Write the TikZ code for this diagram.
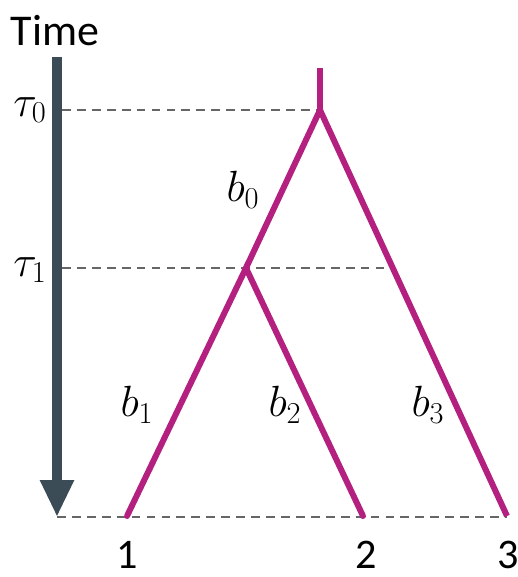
\documentclass[tikz,border=0pt]{standalone}
\usepackage{fontspec}
\setmainfont{Carlito}
\usepackage{amsmath}
\usetikzlibrary{arrows.meta}
\definecolor{treecol}{HTML}{B3207F}
\definecolor{timecol}{HTML}{3B4C56}
\definecolor{dashcol}{HTML}{666666}
\tikzset{
  branch/.style={line width=3.4pt, treecol},
  guide/.style={line width=0.8pt, dashcol, dash pattern=on 5pt off 3.5pt},
  lbl/.style={font=\fontsize{24}{28}\selectfont, inner sep=0pt}
}
\begin{document}
\begin{tikzpicture}[x=0.02cm, y=-0.02cm]
\useasboundingbox (0,0) rectangle (517,577);
% Asse del tempo
\node[lbl, font=\fontsize{25}{29}\selectfont] (time) at (55,31) {Time};
\draw[timecol, line width=5.7pt, -{Triangle[length=21pt, width=18pt]}] (57,57) -- (57,517);
% Punti dell'albero
\coordinate (top) at (320,68);
\coordinate (root) at (320,110);
\coordinate (mid) at (246,268);
\coordinate (leafA) at (127,516);
\coordinate (leafB) at (363,516);
\coordinate (leafC) at (507,516);
\coordinate (tauA) at (62,110);
\coordinate (tauB) at (62,268);
\coordinate (base) at (57,517);
\coordinate (cross) at (393,268);
% Linee tratteggiate
\draw[guide] (tauA) -- (root);
\draw[guide] (tauB) -- (cross);
\draw[guide] (base) -- (leafC |- base);
% Rami
\draw[branch] (top) -- (root);
\draw[branch, line cap=round] (leafA) -- (mid) -- (leafB);
\draw[branch] (mid) -- (root) -- (leafC);
% Etichette
\node[lbl] (t0) at (30,110) {$\tau_0$};
\node[lbl] (t1) at (30,270) {$\tau_1$};
\node[lbl] (lb0) at (243,190) {$b_0$};
\node[lbl] (lb1) at (137,405) {$b_1$};
\node[lbl] (lb2) at (285,405) {$b_2$};
\node[lbl] (lb3) at (428,405) {$b_3$};
\node[lbl] (n1) at (127,555) {1};
\node[lbl] (n2) at (366,555) {2};
\node[lbl] (n3) at (508,555) {3};
\end{tikzpicture}
\end{document}
